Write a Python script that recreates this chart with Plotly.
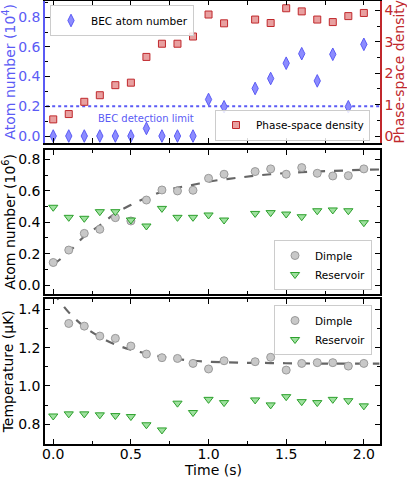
import plotly.graph_objects as go

# ---------------- data ----------------
time = [0.0, 0.1, 0.2, 0.3, 0.4, 0.5, 0.6, 0.7, 0.8, 0.9, 1.0, 1.1,
        1.3, 1.4, 1.5, 1.6, 1.7, 1.8, 1.9, 2.0]

bec_number = [0.0, 0.0, 0.0, 0.0, 0.0, 0.0, 0.051, 0.0, 0.0, 0.0, 0.246, 0.197,
              0.32, 0.387, 0.49, 0.554, 0.371, 0.55, 0.197, 0.617]
psd = [0.53, 0.70, 1.09, 1.30, 1.62, 1.70, 2.52, 2.94, 2.94, 3.17, 3.87, 3.59,
       3.71, 3.60, 4.07, 3.97, 3.71, 3.63, 3.82, 3.92]
detection_limit = 0.2

dimple_n = [0.144, 0.223, 0.329, 0.355, 0.429, 0.408, 0.541, 0.605, 0.599, 0.603,
            0.679, 0.705, 0.722, 0.739, 0.705, 0.747, 0.711, 0.694, 0.696, 0.739]
reservoir_n = [0.495, 0.431, 0.425, 0.467, 0.467, 0.414, 0.376, 0.488, 0.431, 0.431,
               0.446, 0.414, 0.456, 0.461, 0.452, 0.435, 0.473, 0.478, 0.473, 0.397]

time_t = time[1:]
dimple_t = [1.327, 1.313, 1.261, 1.249, 1.209, 1.167, 1.148, 1.144, 1.118,
            1.089, 1.132, 1.127, 1.150, 1.083, 1.118, 1.122, 1.122, 1.104, 1.118]
reservoir_t = [0.843, 0.854, 0.854, 0.849, 0.845, 0.840, 0.797, 0.770, 0.910, 0.861,
               0.930, 0.913, 0.927, 0.901, 0.944, 0.918, 0.913, 0.930, 0.923, 0.896]

fit_time = [0.0, 0.1, 0.2, 0.3, 0.4, 0.5, 0.6, 0.7, 0.8, 0.9, 1.0, 1.2, 1.4, 1.6, 1.8, 2.0, 2.1]
fit_n = [0.13, 0.21, 0.31, 0.38, 0.456, 0.51, 0.556, 0.594, 0.62, 0.637, 0.658,
         0.684, 0.705, 0.718, 0.726, 0.733, 0.735]
fit_temp = [1.49, 1.385, 1.31, 1.257, 1.217, 1.19, 1.17, 1.153, 1.141, 1.132, 1.127,
            1.122, 1.12, 1.118, 1.117, 1.117, 1.117]

# ---------------- style ----------------
FONT = "DejaVu Sans"
BLUE = "#5b5bf5"
RED = "#c0282c"
GRAY_FILL = "#c8c8c8"
GRAY_EDGE = "#9a9a9a"
GREEN_FILL = "#9ee09e"
GREEN_EDGE = "#2ca02c"

W, H = 407, 478
xdom = [45 / W, 380 / W]
dom_top = [1 - 143 / H, 1 - 0.5 / H]
dom_mid = [1 - 293.5 / H, 1 - 150 / H]
dom_bot = [1 - 443.5 / H, 1 - 299 / H]

fig = go.Figure()

# top panel
fig.add_trace(go.Scatter(x=[-0.2, 2.3], y=[detection_limit, detection_limit], mode="lines",
                         line=dict(color=BLUE, width=2, dash="dot"), showlegend=False,
                         xaxis="x", yaxis="y", hoverinfo="skip"))
fig.add_trace(go.Scatter(x=time, y=bec_number, mode="markers", name="BEC atom number",
                         marker=dict(symbol="diamond-tall", size=9, color="#8c8cff",
                                     line=dict(color=BLUE, width=1)),
                         xaxis="x", yaxis="y", legend="legend"))
fig.add_trace(go.Scatter(x=time, y=psd, mode="markers", name="Phase-space density",
                         marker=dict(symbol="square", size=7, color="#e8a0a0",
                                     line=dict(color=RED, width=1)),
                         xaxis="x", yaxis="y2", legend="legend2"))

# middle panel
fig.add_trace(go.Scatter(x=fit_time, y=fit_n, mode="lines", line=dict(color="#666666", width=2.2, dash="dash"),
                         line_shape="spline", showlegend=False, xaxis="x2", yaxis="y3", hoverinfo="skip"))
fig.add_trace(go.Scatter(x=time, y=dimple_n, mode="markers", name="Dimple",
                         marker=dict(symbol="circle", size=8, color=GRAY_FILL, line=dict(color=GRAY_EDGE, width=1)),
                         xaxis="x2", yaxis="y3", legend="legend3"))
fig.add_trace(go.Scatter(x=time, y=reservoir_n, mode="markers", name="Reservoir",
                         marker=dict(symbol="triangle-down", size=8, color=GREEN_FILL, line=dict(color=GREEN_EDGE, width=1)),
                         xaxis="x2", yaxis="y3", legend="legend3"))

# bottom panel
fig.add_trace(go.Scatter(x=fit_time, y=fit_temp, mode="lines", line=dict(color="#666666", width=2.2, dash="dash"),
                         line_shape="spline", showlegend=False, xaxis="x3", yaxis="y4", hoverinfo="skip"))
fig.add_trace(go.Scatter(x=time_t, y=dimple_t, mode="markers", name="Dimple",
                         marker=dict(symbol="circle", size=8, color=GRAY_FILL, line=dict(color=GRAY_EDGE, width=1)),
                         xaxis="x3", yaxis="y4", legend="legend4"))
fig.add_trace(go.Scatter(x=time, y=reservoir_t, mode="markers", name="Reservoir",
                         marker=dict(symbol="triangle-down", size=8, color=GREEN_FILL, line=dict(color=GREEN_EDGE, width=1)),
                         xaxis="x3", yaxis="y4", legend="legend4"))

xr = [-0.053, 2.104]


def xax(anchor, labels):
    return dict(domain=xdom, anchor=anchor, range=xr, showgrid=False, zeroline=False,
                showline=True, linecolor="black", linewidth=1.5, mirror="allticks",
                ticks="inside", ticklen=5, tickwidth=1.3, tickcolor="black",
                tickvals=[0, 0.5, 1.0, 1.5, 2.0], ticktext=["0.0", "0.5", "1.0", "1.5", "2.0"],
                showticklabels=labels, ticklabelstandoff=-3,
                minor=dict(ticks="inside", ticklen=3, tickwidth=1, dtick=0.25, tick0=0, tickcolor="black"),
                tickfont=dict(size=14, color="black"))


def yax(dom, rng, vals, text, minor, color="black", title="", side="left", mirror="allticks", overlay=None, anchor="x"):
    d = dict(domain=dom, anchor=anchor, range=rng, showgrid=False, zeroline=False,
             showline=True, linecolor=color, linewidth=1.5, mirror=mirror, side=side,
             ticks="inside", ticklen=5, tickwidth=1.3, tickcolor="black",
             tickvals=vals, ticktext=text,
             minor=dict(ticks="inside", ticklen=3, tickwidth=1, dtick=minor, tickcolor="black"),
             tickfont=dict(size=14, color=color),
             title=dict(text=title, font=dict(size=14, color=color), standoff=4))
    if overlay:
        d["overlaying"] = overlay
    return d


legend_common = dict(bgcolor="rgba(255,255,255,0.85)", bordercolor="#cccccc", borderwidth=1,
                     font=dict(size=10.5, family=FONT, color="black"), tracegroupgap=0,
                     itemwidth=30)

fig.update_layout(
    width=W, height=H, margin=dict(l=0, r=0, t=0, b=0, autoexpand=False),
    paper_bgcolor="white", plot_bgcolor="white",
    font=dict(family=FONT, size=14, color="black"),
    xaxis=xax("y", False),
    xaxis2=xax("y3", False),
    xaxis3=xax("y4", True),
    yaxis=yax(dom_top, [-0.047, 0.912], [0, 0.2, 0.4, 0.6, 0.8], ["0.0", "0.2", "0.4", "0.6", "0.8"], 0.1,
              color=BLUE, title="Atom number (10<sup>4</sup>)", mirror=False, anchor="x"),
    yaxis2=yax(dom_top, [-0.222, 4.317], [0, 1, 2, 3, 4], ["0", "1", "2", "3", "4"], 0.5,
               color=RED, title="Phase-space density", side="right", mirror=False, overlay="y", anchor="x"),
    yaxis3=yax(dom_mid, [-0.053, 0.859], [0, 0.2, 0.4, 0.6, 0.8], ["0.0", "0.2", "0.4", "0.6", "0.8"], 0.1,
               title="Atom number (10<sup>6</sup>)", anchor="x2"),
    yaxis4=yax(dom_bot, [0.699, 1.455], [0.8, 1.0, 1.2, 1.4], ["0.8", "1.0", "1.2", "1.4"], 0.1,
               title="Temperature (μK)", anchor="x3"),
    legend=dict(x=50 / W, y=1 - 5 / H, xanchor="left", yanchor="top", **legend_common),
    legend2=dict(x=370 / W, y=1 - 140.5 / H, xanchor="right", yanchor="bottom", **legend_common),
    legend3=dict(x=372 / W, y=1 - 290 / H, xanchor="right", yanchor="bottom", **legend_common),
    legend4=dict(x=372 / W, y=1 - 305 / H, xanchor="right", yanchor="top", **legend_common),
    annotations=[dict(text="BEC detection limit", x=0.6, y=0.2, xref="x", yref="y", yshift=-12,
                      showarrow=False, font=dict(size=10, color=BLUE, family=FONT)),
                 dict(text="Time (s)", x=(xdom[0] + xdom[1]) / 2, y=0, xref="paper", yref="paper",
                      yanchor="bottom", yshift=-2, showarrow=False, font=dict(size=14, color="black", family=FONT))],
)
fig.write_html("out.html", config={"displayModeBar": False},
               post_script="document.body.style.margin='0';document.body.style.padding='0';document.body.style.overflow='hidden';")
